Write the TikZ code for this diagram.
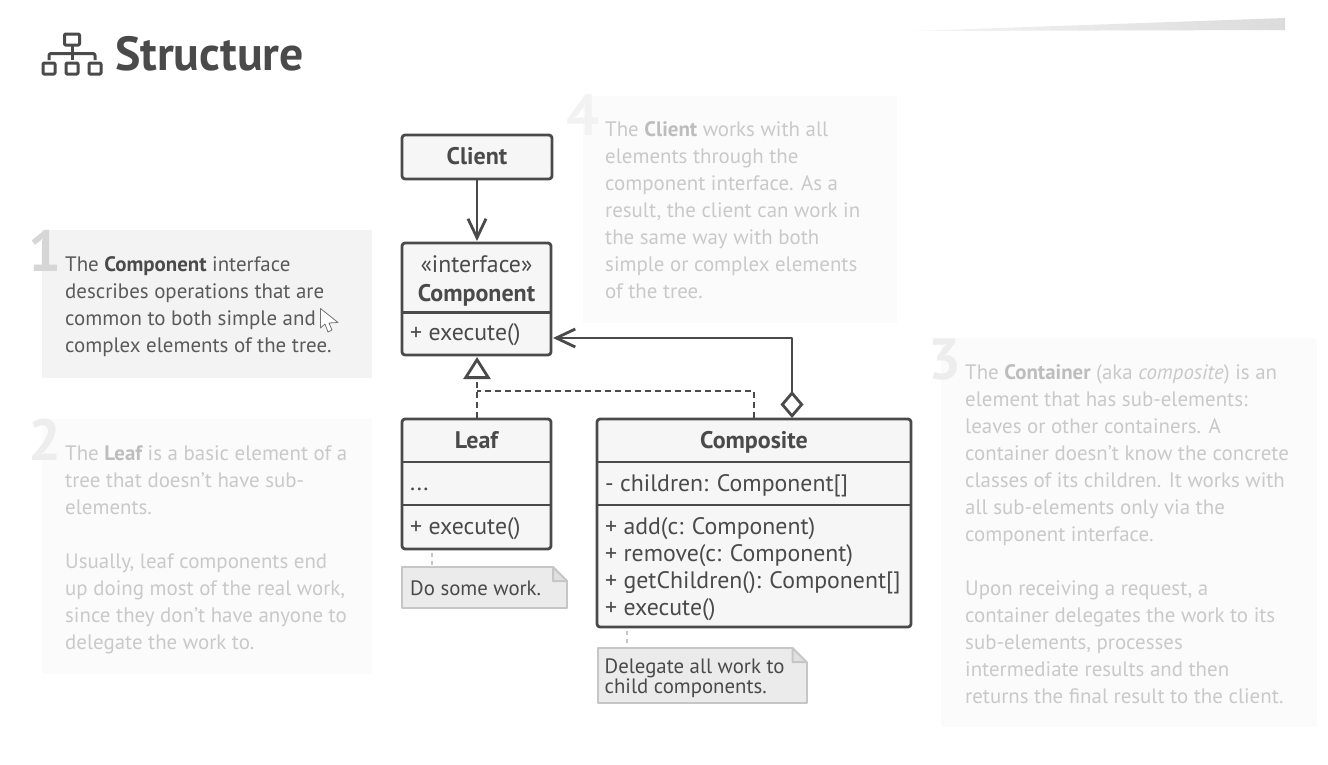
\documentclass[tikz,border=0pt]{standalone}
\usepackage{fontspec}
\setmainfont{PT Sans}
\usepackage{xcolor}
\usetikzlibrary{arrows.meta,calc}
\definecolor{ink}{HTML}{4A4A4A}
\definecolor{boxfill}{HTML}{F6F6F6}
\definecolor{notefill}{HTML}{EBEBEB}
\definecolor{noteline}{HTML}{C6C6C6}
\definecolor{panelon}{HTML}{F3F3F3}
\definecolor{paneloff}{HTML}{FBFBFB}
\definecolor{texton}{HTML}{5A5A5A}
\definecolor{textoff}{HTML}{C9C9C9}
\definecolor{boldoff}{HTML}{BDBDBD}
\tikzset{
  classbox/.style={draw=ink,fill=boxfill,line width=2.8pt,rounded corners=3pt,inner sep=0pt},
  classname/.style={font=\fontsize{24}{29}\selectfont\bfseries,text=ink,align=center,inner sep=0pt,text height=16pt,text depth=5pt},
  classrow/.style={font=\fontsize{23.8}{27}\selectfont,text=ink,align=left,anchor=north west,inner sep=0pt},
  notebox/.style={draw=noteline,fill=notefill,line width=2pt,inner sep=0pt,outer sep=0pt,anchor=north west},
  notetext/.style={font=\fontsize{20.8}{20}\selectfont,text=ink,align=left,anchor=north west,inner sep=0pt},
  panel/.style={inner sep=0pt,outer sep=0pt,anchor=north west},
  helptext/.style={font=\fontsize{20.9}{27}\selectfont,align=left,anchor=north west,inner sep=0pt},
  bignum/.style={font=\fontsize{58}{58}\selectfont\bfseries,anchor=base west,inner sep=0pt},
  link/.style={draw=ink,line width=2.8pt},
  notelink/.style={draw=noteline,line width=2pt,dashed,dash pattern=on 4pt off 4pt},
  openvee/.style={-{Straight Barb[length=19pt,width=18pt,line width=2.8pt]}}
}
\newcommand{\notefold}[1]{%
  \fill[white] ($(#1.north east)+(-14,1.5)$) -- ($(#1.north east)+(1.5,1.5)$) -- ($(#1.north east)+(1.5,-14)$) -- cycle;
  \draw[noteline,line width=2pt,fill=notefill!70!noteline,line join=round] ($(#1.north east)+(-14,0)$) -- ($(#1.north east)+(0,-14)$) -- ($(#1.north east)+(-14,-14)$) -- cycle;
}
\begin{document}
\begin{tikzpicture}[x=1pt,y=1pt,line cap=butt,line join=round]
    \useasboundingbox (0,0) rectangle (1328,-764);
    \fill[white] (0,0) rectangle (1328,-764);

    % smear top right
    \shade[left color=black!4,right color=black!14] (915,-31) -- (1285,-18) -- (1285,-30) -- cycle;

    % title
    \draw[ink,line width=3pt,rounded corners=1pt] (64.5,-34) rectangle (79.5,-45);
    \draw[ink,line width=3pt,rounded corners=1pt] (43,-63) rectangle (55,-74);
    \draw[ink,line width=3pt,rounded corners=1pt] (66,-63) rectangle (78,-74);
    \draw[ink,line width=3pt,rounded corners=1pt] (89,-63) rectangle (101,-74);
    \draw[ink,line width=3pt,rounded corners=2pt] (49,-60) -- (49,-53.5) -- (95,-53.5) -- (95,-60);
    \draw[ink,line width=3pt] (72,-45) -- (72,-60);
    \node[font=\fontsize{47.8}{48}\selectfont\bfseries,text=ink,anchor=base west,inner sep=0pt] (title) at (115,-70) {Structure};

    % panels
    \node[panel,fill=panelon,minimum width=330,minimum height=148] (panelone) at (42,-230) {};
    \node[panel,fill=paneloff,minimum width=330,minimum height=255] (paneltwo) at (42,-419) {};
    \node[panel,fill=paneloff,minimum width=314,minimum height=227] (panelfour) at (583,-96) {};
    \node[panel,fill=paneloff,minimum width=376,minimum height=389] (panelthree) at (941,-338) {};

    \node[bignum,text=black!16] (numone) at (28,-271) {1};
    \node[bignum,text=black!7] (numtwo) at (28,-460) {2};
    \node[bignum,text=black!5] (numfour) at (566,-135) {4};
    \node[bignum,text=black!7] (numthree) at (928,-379) {3};

    \node[helptext,text=texton] (textone) at (65,-256) {The {\color{ink}\bfseries Component} interface\\describes operations that are\\common to both simple and\\complex elements of the tree.};
    \node[helptext,text=textoff] (texttwo) at (65,-445) {The {\color{boldoff}\bfseries Leaf} is a basic element of a\\tree that doesn't have sub-\\elements.\\[27pt]Usually, leaf components end\\up doing most of the real work,\\since they don't have anyone to\\delegate the work to.};
    \node[helptext,text=textoff] (textfour) at (605,-121) {The {\color{boldoff}\bfseries Client} works with all\\elements through the\\component interface. As a\\result, the client can work in\\the same way with both\\simple or complex elements\\of the tree.};
    \node[helptext,text=textoff] (textthree) at (965,-364) {The {\color{boldoff}\bfseries Container} (aka {\itshape composite}) is an\\element that has sub-elements:\\leaves or other containers. A\\container doesn't know the concrete\\classes of its children. It works with\\all sub-elements only via the\\component interface.\\[27pt]Upon receiving a request, a\\container delegates the work to its\\sub-elements, processes\\intermediate results and then\\returns the final result to the client.};

    % cursor
    \draw[black!55,fill=white,line width=0.8pt] (320.5,-308.5) -- (320.5,-328) -- (325,-324) -- (328,-332) -- (332,-330) -- (329,-323) -- (338,-322.5) -- cycle;

    % classes
    \node[classbox,panel,minimum width=150,minimum height=44] (client) at (402,-135) {};
    \node[classname] (clientname) at (477,-159) {Client};

    \node[classbox,panel,minimum width=149,minimum height=112] (component) at (402,-243) {};
    \node[font=\fontsize{23.8}{29}\selectfont,text=ink,align=center,inner sep=0pt] (compname) at (476.5,-280.5) {«interface»\\\fontsize{24}{29}\selectfont\bfseries Component};
    \draw[link] (component.west |- 0,-312.5) -- (component.east |- 0,-312.5);
    \node[classrow] (compops) at (410,-323) {+ execute()};

    \node[classbox,panel,minimum width=149,minimum height=130] (leaf) at (402,-419) {};
    \node[classname] (leafname) at (476.5,-443) {Leaf};
    \draw[link] (leaf.west |- 0,-462) -- (leaf.east |- 0,-462);
    \node[classrow] (leafattr) at (410,-488) {...};
    \draw[link] (leaf.west |- 0,-505) -- (leaf.east |- 0,-505);
    \node[classrow] (leafops) at (410,-517) {+ execute()};

    \node[classbox,panel,minimum width=314,minimum height=208] (composite) at (597,-419) {};
    \node[classname] (compositename) at (754,-443) {Composite};
    \draw[link] (composite.west |- 0,-462) -- (composite.east |- 0,-462);
    \node[classrow] (compositeattr) at (605,-474) {- children: Component[]};
    \draw[link] (composite.west |- 0,-505) -- (composite.east |- 0,-505);
    \node[classrow] (compositeops) at (605,-517) {+ add(c: Component)\\+ remove(c: Component)\\+ getChildren(): Component[]\\+ execute()};

    % notes
    \node[notebox,minimum width=165,minimum height=41] (leafnote) at (402,-567) {};
    \notefold{leafnote}
    \node[notetext] (leafnotetext) at (410,-581) {Do some work.};
    \node[notebox,minimum width=209,minimum height=55] (compositenote) at (597.5,-648) {};
    \notefold{compositenote}
    \node[notetext] (compositenotetext) at (604.5,-658.5) {Delegate all work to\\child components.};

    % connectors
    \coordinate (compright) at (553,-338);
    \coordinate (aggtop) at (792,-418);
    \coordinate (dashtop) at (754,-418);
    \coordinate (leaftop) at (477,-418);
    \coordinate (compbottom) at (477,-357);
    \coordinate (clientlow) at (477,-179);
    \coordinate (comptop) at (477,-241);

    \draw[link,openvee] (clientlow) -- (comptop);
    \draw[link,{Diamond[open,length=27pt,width=23pt,line width=2.8pt]}-{Straight Barb[length=19pt,width=18pt,line width=2.8pt]}] (aggtop) |- (compright);
    \draw[link,dashed,dash pattern=on 6pt off 4pt,-{Triangle[open,length=22pt,width=27pt,line width=2.8pt,fill=white]}] (leaftop) -- (compbottom);
    \draw[link,dashed,dash pattern=on 6pt off 4pt] (dashtop) -- (754,-391) -- (477,-391);
    \draw[notelink] (432,-553) -- (leafnote.north west -| 432,0);
    \draw[notelink] (627,-631) -- (compositenote.north west -| 627,0);
\end{tikzpicture}
\end{document}
